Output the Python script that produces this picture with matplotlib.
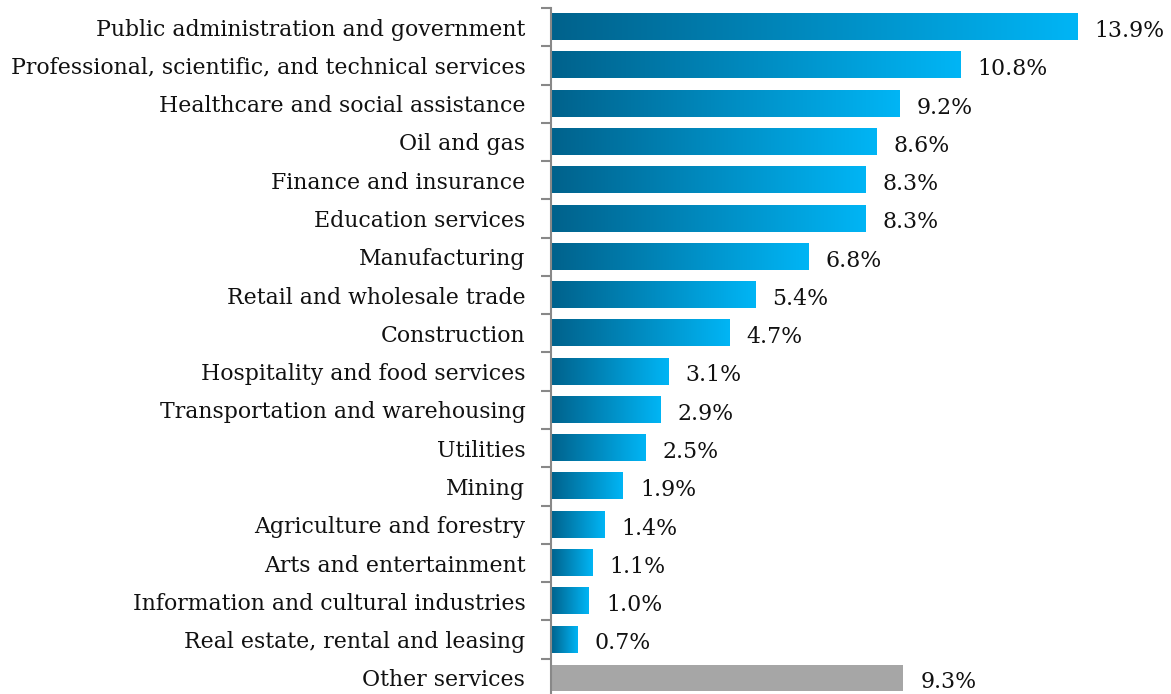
import numpy as np
import matplotlib.pyplot as plt
from matplotlib.colors import LinearSegmentedColormap

# industries and their share (%)
categories = [
    'Public administration and government',
    'Professional, scientific, and technical services',
    'Healthcare and social assistance',
    'Oil and gas',
    'Finance and insurance',
    'Education services',
    'Manufacturing',
    'Retail and wholesale trade',
    'Construction',
    'Hospitality and food services',
    'Transportation and warehousing',
    'Utilities',
    'Mining',
    'Agriculture and forestry',
    'Arts and entertainment',
    'Information and cultural industries',
    'Real estate, rental and leasing',
    'Other services',
]
values = [13.9, 10.8, 9.2, 8.6, 8.3, 8.3, 6.8, 5.4, 4.7, 3.1, 2.9, 2.5, 1.9, 1.4, 1.1, 1.0, 0.7, 9.3]
value_labels = ['13.9%', '10.8%', '9.2%', '8.6%', '8.3%', '8.3%', '6.8%', '5.4%', '4.7%',
                '3.1%', '2.9%', '2.5%', '1.9%', '1.4%', '1.1%', '1.0%', '0.7%', '9.3%']

plt.rcParams['font.family'] = ['DejaVu Serif']

blue_grad = LinearSegmentedColormap.from_list('bluegrad', ['#00628c', '#00b5f5'])
grad = np.linspace(0, 1, 256).reshape(1, -1)

fig = plt.figure(figsize=(11.71, 6.94), dpi=100)
ax = fig.add_axes([0.4705, -0.0043, 0.5177, 0.9928])

n = len(categories)
bar_h = 0.68
for i, (cat, v, lab) in enumerate(zip(categories, values, value_labels)):
    y = i
    if cat == 'Other services':
        ax.barh(y, v, height=bar_h, color='#a6a6a6', zorder=2)
    else:
        # horizontal dark-to-light fill, one image per bar
        ax.imshow(grad, cmap=blue_grad, aspect='auto', interpolation='bilinear',
                  extent=[0, v, y + bar_h / 2, y - bar_h / 2], zorder=2)
    ax.text(v + 0.45, y + 0.1, lab, va='center', ha='left', fontsize=15.8, color='#111111')

ax.set_xlim(0, 16)
ax.set_ylim(n - 0.5, -0.5)

ax.set_yticks(range(n))
ax.set_yticklabels(categories, fontsize=15.8, color='#111111')
ax.set_yticks(np.arange(-0.5, n, 1.0), minor=True)
ax.tick_params(axis='y', which='major', length=0, pad=18.5)
ax.tick_params(axis='y', which='minor', length=7, width=1.5, color='#888888', direction='out')
ax.set_xticks([])

for side in ['top', 'right', 'bottom']:
    ax.spines[side].set_visible(False)
ax.spines['left'].set_color('#888888')
ax.spines['left'].set_linewidth(1.5)

plt.savefig('out.png', dpi=100)
